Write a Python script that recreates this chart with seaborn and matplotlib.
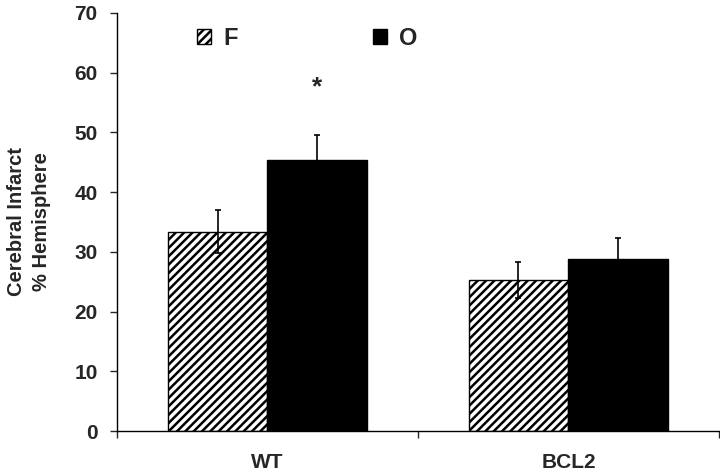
import numpy as np
import pandas as pd
import matplotlib
matplotlib.use('Agg')
import matplotlib.pyplot as plt
import seaborn as sns
from matplotlib.patches import Patch

# values
groups = ['WT', 'BCL2']
treatments = ['F', 'O']
f_means = [33.4, 25.3]
o_means = [45.4, 28.8]
f_se = [3.6, 3.0]
o_se = [4.2, 3.5]

df = pd.DataFrame({
    'group': groups * 2,
    'treatment': ['F'] * 2 + ['O'] * 2,
    'value': f_means + o_means,
    'se': f_se + o_se,
})

sns.set_style('white')
plt.rcParams['font.family'] = ['Liberation Sans', 'DejaVu Sans']
plt.rcParams['font.weight'] = 'bold'
plt.rcParams['hatch.linewidth'] = 1.8

fig = plt.figure(figsize=(7.2, 4.74), dpi=100)
ax = fig.add_axes([0.1625, 0.0907, 0.836, 0.8819])

sns.barplot(data=df, x='group', y='value', hue='treatment', order=groups,
            hue_order=treatments, palette={'F': 'white', 'O': 'black'},
            edgecolor='black', linewidth=1.0, width=0.664, gap=0,
            errorbar=None, legend=False, ax=ax)

# hatch the F bars, add error bars
bars = ax.patches
for i, (_, row) in enumerate(df.iterrows()):
    b = bars[i]
    if row['treatment'] == 'F':
        b.set_hatch('////')
    cx = b.get_x() + b.get_width() / 2
    ax.errorbar(cx, row['value'], yerr=row['se'], fmt='none', ecolor='black',
                elinewidth=1.2, capsize=2.5, capthick=1.2, zorder=3)

# significance marker over WT / O
wt_o = df[(df.group == 'WT') & (df.treatment == 'O')].iloc[0]
b = bars[2]
ax.text(b.get_x() + b.get_width() / 2, wt_o['value'] + wt_o['se'] + 8.0, '*',
        ha='center', va='center', fontsize=19, fontweight='bold')

ax.set_ylim(0, 70)
ax.set_xlim(-0.5, 1.5)
ax.set_yticks(range(0, 71, 10))
ax.set_xlabel('')
ax.set_ylabel('Cerebral Infarct\n% Hemisphere', fontsize=14.5, fontweight='bold',
              labelpad=17, linespacing=1.35)
ax.tick_params(axis='y', direction='out', length=5, width=1, labelsize=15, pad=9, left=True)
ax.tick_params(axis='x', which='major', length=0, labelsize=15, pad=16)
ax.set_xticks([-0.5, 0.5, 1.5], minor=True)
ax.tick_params(axis='x', which='minor', direction='out', length=5, width=1, bottom=True)
for s in ['top', 'right']:
    ax.spines[s].set_visible(False)
for s in ['left', 'bottom']:
    ax.spines[s].set_color('black')
    ax.spines[s].set_linewidth(1.0)

handles = [Patch(facecolor='white', edgecolor='black', hatch='////', label='F'),
           Patch(facecolor='black', edgecolor='black', label='O')]
ax.legend(handles=handles, loc='center left', bbox_to_anchor=(0.133, 0.94),
          ncol=2, frameon=False, handlelength=0.6, handleheight=0.6,
          handletextpad=0.5, columnspacing=5.75, borderpad=0, borderaxespad=0,
          prop={'weight': 'bold', 'size': 17})

fig.savefig('out.png', dpi=100)
